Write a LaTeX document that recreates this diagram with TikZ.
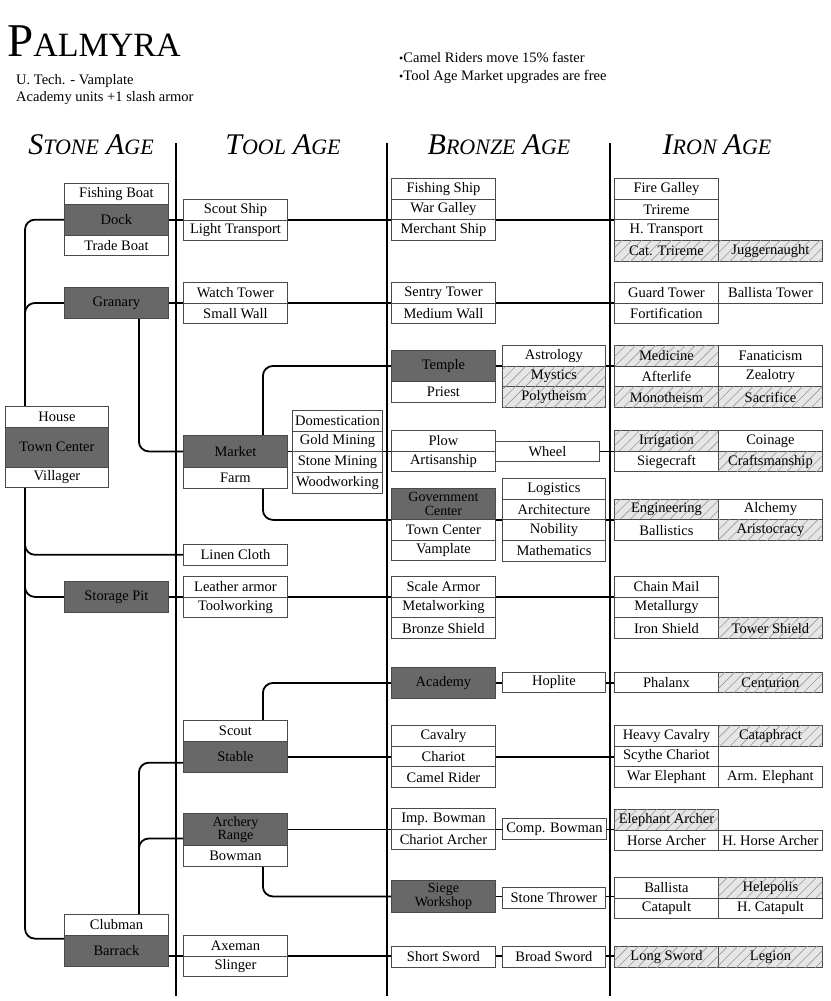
\documentclass[tikz,border=0pt]{standalone}
\usepackage{fontspec}
\setmainfont{Liberation Serif}
\usetikzlibrary{patterns.meta,calc}
\definecolor{dbox}{HTML}{686868}
\definecolor{bord}{HTML}{4A4A4A}
\definecolor{hbg}{HTML}{E6E6E6}
\definecolor{hln}{HTML}{9A9A9A}
\pgfdeclarelayer{bg}
\pgfsetlayers{bg,main}
\newcommand{\hdr}[4]{{\fontsize{30}{30}\selectfont\itshape #1}{\fontsize{22}{22}\selectfont\itshape #2}\hspace{7pt}{\fontsize{30}{30}\selectfont\itshape #3}{\fontsize{22}{22}\selectfont\itshape #4}}
\tikzset{
 cell/.style={draw=bord, line width=0.9pt, fill=white, anchor=north west, minimum width=104, minimum height=20.7, inner sep=0pt, font=\fontsize{14.5}{12}\selectfont, align=center},
 dcell/.style={cell, fill=dbox, minimum height=31},
 twoline/.style={font=\fontsize{14}{13.5}\selectfont},
 hcell/.style={cell, fill=hbg, postaction={pattern={Lines[angle=45,distance=7pt,line width=0.6pt]}, pattern color=hln}},
 conn/.style={line width=1.8pt, rounded corners=10pt},
 ageline/.style={line width=2pt},
 txt/.style={anchor=base west, inner sep=0pt, font=\fontsize{14.5}{14.5}\selectfont},
 header/.style={anchor=base, inner sep=0pt},
}
\begin{document}
\begin{tikzpicture}[x=1pt,y=-1pt]
\useasboundingbox (0,0) rectangle (830,1001);
% title block
\node[txt] (title) at (7,56) {{\fontsize{47}{47}\selectfont P}{\fontsize{34}{34}\selectfont ALMYRA}};
\node[txt] (sub1) at (16,84) {U. Tech. - Vamplate};
\node[txt] (sub2) at (16,101) {Academy units +1 slash armor};
\node[txt] (note1) at (399,62.5) {{\fontsize{12}{12}\selectfont •}Camel Riders move 15\% faster};
\node[txt] (note2) at (399,80.5) {{\fontsize{12}{12}\selectfont •}Tool Age Market upgrades are free};
% headers
\node[header] (h1) at (91,154) {\hdr{S}{TONE}{A}{GE}};
\node[header] (h2) at (283,154) {\hdr{T}{OOL}{A}{GE}};
\node[header] (h3) at (499,154) {\hdr{B}{RONZE}{A}{GE}};
\node[header] (h4) at (717,154) {\hdr{I}{RON}{A}{GE}};
\coordinate (a1t) at (176,143); \coordinate (a1b) at (176,996);
\coordinate (a2t) at (386.5,143); \coordinate (a2b) at (386.5,996);
\coordinate (a3t) at (610,143); \coordinate (a3b) at (610,996);
% Stone Age
\node[cell] (fboat) at (64,183) {Fishing Boat};
\node[dcell] (dock) at (64,203.7) {Dock};
\node[cell] (tboat) at (64,234.7) {Trade Boat};
\node[dcell] (granary) at (64,287) {Granary};
\node[cell, minimum width=103] (house) at (5,406) {House};
\node[dcell, minimum width=103, minimum height=40] (tcenter) at (5,426.7) {Town Center};
\node[cell, minimum width=103] (villager) at (5,466.7) {Villager};
\node[dcell] (storage) at (64,581) {Storage Pit};
\node[cell] (clubman) at (64,914) {Clubman};
\node[dcell] (barrack) at (64,934.7) {Barrack};
% Tool Age
\node[cell] (scship) at (183,199) {Scout Ship};
\node[cell] (ltrans) at (183,219.7) {Light Transport};
\node[cell] (wtower) at (183,282) {Watch Tower};
\node[cell] (swall) at (183,302.7) {Small Wall};
\node[dcell, minimum height=32] (market) at (183,435) {Market};
\node[cell, minimum height=20.5] (farm) at (183,467) {Farm};
\node[cell, minimum width=90] (domest) at (292,410) {Domestication};
\node[cell, minimum width=90] (goldm) at (292,430.7) {Gold Mining};
\node[cell, minimum width=90] (stonem) at (292,451.4) {Stone Mining};
\node[cell, minimum width=90] (woodw) at (292,472.1) {Woodworking};
\node[cell] (linen) at (183,544) {Linen Cloth};
\node[cell] (leather) at (183,576) {Leather armor};
\node[cell] (toolw) at (183,596.7) {Toolworking};
\node[cell] (scout) at (183,720) {Scout};
\node[dcell] (stable) at (183,740.7) {Stable};
\node[dcell, minimum height=32, twoline] (archery) at (183,813) {Archery\\Range};
\node[cell] (bowman) at (183,845) {Bowman};
\node[cell] (axeman) at (183,935) {Axeman};
\node[cell] (slinger) at (183,955.7) {Slinger};
% Bronze Age
\node[cell] (fship) at (391,178) {Fishing Ship};
\node[cell] (wgalley) at (391,198.7) {War Galley};
\node[cell] (mship) at (391,219.4) {Merchant Ship};
\node[cell] (sentry) at (391,282) {Sentry Tower};
\node[cell] (mwall) at (391,302.7) {Medium Wall};
\node[dcell] (temple) at (391,350) {Temple};
\node[cell] (priest) at (391,381) {Priest};
\node[cell] (plow) at (391,430) {Plow};
\node[cell] (artis) at (391,450.7) {Artisanship};
\node[dcell, twoline] (govc) at (391,488) {Government\\Center};
\node[cell] (tcenter2) at (391,519) {Town Center};
\node[cell] (vamp) at (391,539.7) {Vamplate};
\node[cell] (scale) at (391,576) {Scale Armor};
\node[cell] (metalw) at (391,596.7) {Metalworking};
\node[cell] (bshield) at (391,617.4) {Bronze Shield};
\node[dcell] (academy) at (391,667) {Academy};
\node[cell] (cavalry) at (391,725) {Cavalry};
\node[cell] (chariot) at (391,745.7) {Chariot};
\node[cell] (camel) at (391,766.4) {Camel Rider};
\node[cell] (impbow) at (391,808) {Imp. Bowman};
\node[cell] (charch) at (391,828.7) {Chariot Archer};
\node[dcell, minimum height=32, twoline] (siege) at (391,880) {Siege\\Workshop};
\node[cell] (ssword) at (391,946) {Short Sword};
% Bronze Age, second column
\node[cell, minimum width=103] (astro) at (502,345) {Astrology};
\node[hcell, minimum width=103] (mystics) at (502,365.7) {Mystics};
\node[hcell, minimum width=103] (poly) at (502,386.4) {Polytheism};
\node[cell, minimum height=20] (wheel) at (495,441) {Wheel};
\node[cell, minimum width=103] (logist) at (502,478) {Logistics};
\node[cell, minimum width=103] (archit) at (502,498.7) {Architecture};
\node[cell, minimum width=103] (nobil) at (502,519.4) {Nobility};
\node[cell, minimum width=103] (math) at (502,540.1) {Mathematics};
\node[cell, minimum width=103, minimum height=20] (hoplite) at (502,672) {Hoplite};
\node[cell] (compbow) at (502,818) {Comp. Bowman};
\node[cell, minimum width=103] (stonethr) at (502,887) {Stone Thrower};
\node[cell, minimum width=103] (bsword) at (502,946) {Broad Sword};
% Iron Age
\node[cell] (firegal) at (614,178) {Fire Galley};
\node[cell] (trireme) at (614,198.7) {Trireme};
\node[cell] (htrans) at (614,219.4) {H. Transport};
\node[hcell] (cattri) at (614,240.1) {Cat. Trireme};
\node[hcell] (jugg) at (718,240.1) {Juggernaught};
\node[cell] (gtower) at (614,282) {Guard Tower};
\node[cell] (btower) at (718,282) {Ballista Tower};
\node[cell] (fortif) at (614,302.7) {Fortification};
\node[hcell] (medicine) at (614,345) {Medicine};
\node[cell] (fanat) at (718,345) {Fanaticism};
\node[cell] (afterlife) at (614,365.7) {Afterlife};
\node[cell] (zealotry) at (718,365.7) {Zealotry};
\node[hcell] (monoth) at (614,386.4) {Monotheism};
\node[hcell] (sacrifice) at (718,386.4) {Sacrifice};
\node[hcell] (irrig) at (614,430) {Irrigation};
\node[cell] (coinage) at (718,430) {Coinage};
\node[cell] (siegecraft) at (614,450.7) {Siegecraft};
\node[hcell] (crafts) at (718,450.7) {Craftsmanship};
\node[hcell] (engin) at (614,498.7) {Engineering};
\node[cell] (alchemy) at (718,498.7) {Alchemy};
\node[cell] (ballistics) at (614,519.4) {Ballistics};
\node[hcell] (aristoc) at (718,519.4) {Aristocracy};
\node[cell] (chainm) at (614,576) {Chain Mail};
\node[cell] (metall) at (614,596.7) {Metallurgy};
\node[cell] (ishield) at (614,617.4) {Iron Shield};
\node[hcell] (tshield) at (718,617.4) {Tower Shield};
\node[cell, minimum height=20] (phalanx) at (614,672) {Phalanx};
\node[hcell, minimum height=20] (centurion) at (718,672) {Centurion};
\node[cell] (hcav) at (614,725) {Heavy Cavalry};
\node[hcell] (cataph) at (718,725) {Cataphract};
\node[cell] (scythe) at (614,745.7) {Scythe Chariot};
\node[cell] (welephant) at (614,766.4) {War Elephant};
\node[cell] (armeleph) at (718,766.4) {Arm. Elephant};
\node[hcell] (elearch) at (614,809) {Elephant Archer};
\node[cell] (horsearch) at (614,829.7) {Horse Archer};
\node[cell] (hhorse) at (718,829.7) {H. Horse Archer};
\node[cell] (ballista) at (614,877) {Ballista};
\node[hcell] (helepolis) at (718,877) {Helepolis};
\node[cell] (catapult) at (614,897.7) {Catapult};
\node[cell] (hcatapult) at (718,897.7) {H. Catapult};
\node[hcell] (lsword) at (614,946) {Long Sword};
\node[hcell] (legion) at (718,946) {Legion};
% connectors
\begin{pgfonlayer}{bg}
\draw[ageline] (a1t) -- (a1b);
\draw[ageline] (a2t) -- (a2b);
\draw[ageline] (a3t) -- (a3b);
\draw[conn] (dock.east) -- (dock.east -| trireme.west);
\draw[conn] (granary.east) -- (granary.east -| gtower.west);
\draw[conn] (temple.east) -- (temple.east -| medicine.west);
\draw[conn] (market.east) -- (market.east -| irrig.west);
\draw[conn] (govc.south east) -- (govc.south east -| engin.west);
\draw[conn] (storage.east) -- (storage.east -| chainm.west);
\draw[conn] (academy.east) -- (academy.east -| phalanx.west);
\draw[conn] (stable.east) -- (stable.east -| scythe.west);
\draw[conn] (archery.east) -- (archery.east -| horsearch.west);
\draw[conn] (siege.east) -- (siege.east -| ballista.west);
\draw[conn] (barrack.east |- slinger.north) -- (slinger.north -| lsword.west);
\coordinate (sp1) at ($(house.north west)+(20,0)$);
\coordinate (sp2) at ($(villager.south west)+(20,0)$);
\draw[conn] (dock.west) -| (sp1);
\draw[conn] (granary.west) -| (sp1);
\draw[conn] (sp2) |- (linen.west);
\draw[conn] (sp2) |- (storage.west);
\draw[conn] (sp2) |- ($(barrack.west)+(0,-12)$);
\draw[conn] ($(granary.south east)+(-30,0)$) |- (market.west);
\draw[conn] ($(market.north east)+(-25,0)$) |- (temple.west);
\draw[conn] ($(farm.south east)+(-25,0)$) |- (govc.south west);
\draw[conn] ($(scout.north east)+(-25,0)$) |- (academy.west);
\draw[conn] ($(clubman.north east)+(-30,0)$) |- ($(stable.west)+(0,6)$);
\draw[conn] ($(clubman.north east)+(-30,0)$) |- ($(archery.west)+(0,9)$);
\draw[conn] ($(bowman.south east)+(-25,0)$) |- (siege.west);
\end{pgfonlayer}
\end{tikzpicture}
\end{document}
